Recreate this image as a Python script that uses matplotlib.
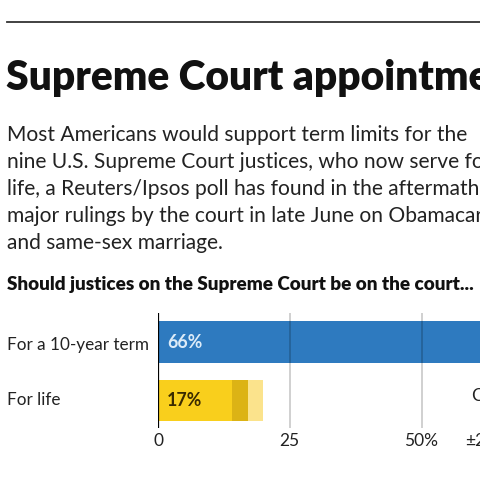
import matplotlib
matplotlib.use("Agg")
import matplotlib.pyplot as plt
from matplotlib.lines import Line2D

plt.rcParams['font.family'] = ['Lato', 'DejaVu Sans']

W, H = 480, 480

# data
categories = ["For a 10-year term", "For life"]
values = [66, 17]
margin = 3
bar_colors = ["#2e7abf", "#f9cf1c"]
dark_colors = ["#2a6eac", "#dcb315"]
light_colors = ["#8fbce3", "#fbe38c"]
label_colors = ["#dcebf8", "#3a2b00"]
ticks = [0, 25, 50, 75, 100]
tick_labels = ["0", "25", "50%", "75", "100"]

title = "Supreme Court appointments"
body = ["Most Americans would support term limits for the",
        "nine U.S. Supreme Court justices, who now serve for",
        "life, a Reuters/Ipsos poll has found in the aftermath of",
        "major rulings by the court in late June on Obamacare",
        "and same-sex marriage."]
question = "Should justices on the Supreme Court be on the court..."


def fx(px):
    return px / W


def fy(py):
    return 1 - py / H


fig = plt.figure(figsize=(4.8, 4.8), dpi=100)

# top rule
fig.add_artist(Line2D([fx(7), 1.0], [fy(22), fy(22)], color="#333333", lw=1.3))

fig.text(fx(6), fy(90), title, fontsize=29.3, fontweight="heavy", va="baseline", color="#111111")
for i, line in enumerate(body):
    fig.text(fx(7), fy(141 + 27 * i), line, fontsize=15.1, va="baseline", color="#222222")
fig.text(fx(7), fy(290), question, fontsize=13.6, fontweight="heavy", va="baseline", color="#111111")

# axes: 0 at x=158, 5.27 px per point
left, right = 158, 158 + 5.27 * 100
top, bottom = 313, 428
ax = fig.add_axes([fx(left), fy(bottom), (right - left) / W, (bottom - top) / H])
ax.set_xlim(0, 100)
ax.set_ylim(1.48, -0.5)
ax.axis("off")

ys = list(range(len(categories)))
ax.barh(ys, [v - margin for v in values], height=0.71, color=bar_colors, zorder=1)
ax.barh(ys, [margin] * len(values), left=[v - margin for v in values], height=0.71,
        color=dark_colors, zorder=1)
ax.barh(ys, [margin] * len(values), left=values, height=0.71, color=light_colors, zorder=1)

for t in ticks[1:]:
    ax.axvline(t, color="black", alpha=0.2, lw=1.3, zorder=3)
ax.axvline(0, color="black", lw=1.6, zorder=4)

for y, v, c in zip(ys, values, label_colors):
    ax.text(1.7, y, f"{v}%", color=c, fontsize=12.8, fontweight="bold", va="center", zorder=5)

baselines = [350, 405]
for lab, b in zip(categories, baselines):
    fig.text(fx(7), fy(b), lab, fontsize=12.3, va="baseline", color="#222222")

for t, lab in zip(ticks, tick_labels):
    fig.text(fx(left + 5.27 * t), fy(446), lab, fontsize=12.5, ha="center", va="baseline",
             color="#222222")

# interval note on the right
fig.text(fx(471), fy(401), "Credibility", fontsize=12.5, va="baseline", color="#222222")
fig.text(fx(465), fy(446), "±2.9", fontsize=12.5, va="baseline", color="#222222")

fig.savefig("out.png", dpi=100)
